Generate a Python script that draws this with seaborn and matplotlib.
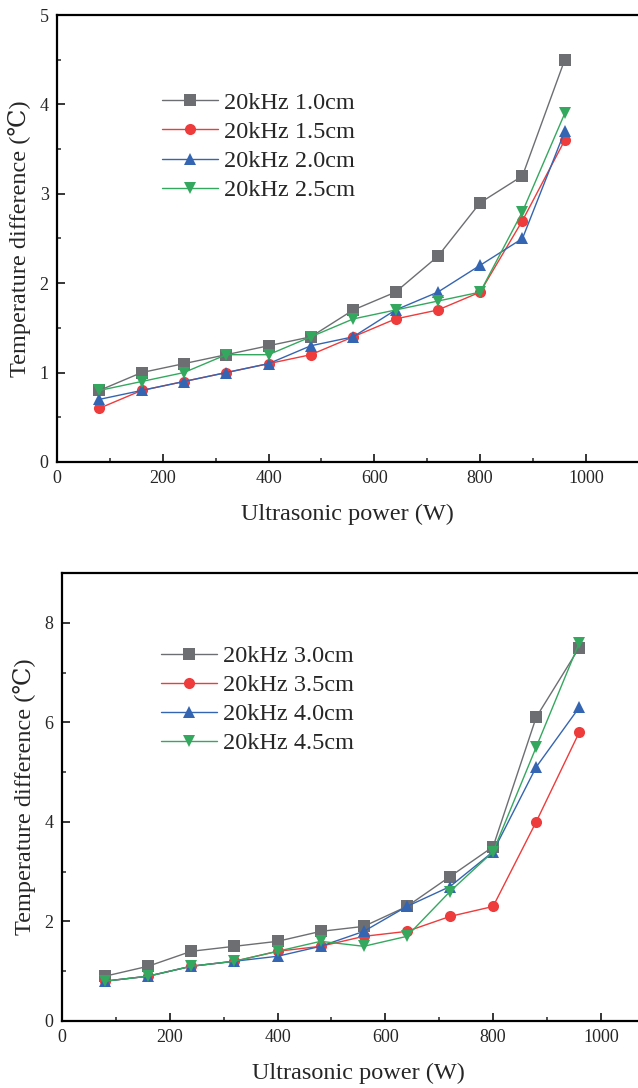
import numpy as np
import pandas as pd
import matplotlib
matplotlib.use("Agg")
import matplotlib.pyplot as plt
from matplotlib.ticker import MultipleLocator
import seaborn as sns

power = [80, 160, 240, 320, 400, 480, 560, 640, 720, 800, 880, 960]

labels_top = ["20kHz 1.0cm", "20kHz 1.5cm", "20kHz 2.0cm", "20kHz 2.5cm"]
d10 = [0.8, 1.0, 1.1, 1.2, 1.3, 1.4, 1.7, 1.9, 2.3, 2.9, 3.2, 4.5]
d15 = [0.6, 0.8, 0.9, 1.0, 1.1, 1.2, 1.4, 1.6, 1.7, 1.9, 2.7, 3.6]
d20 = [0.7, 0.8, 0.9, 1.0, 1.1, 1.3, 1.4, 1.7, 1.9, 2.2, 2.5, 3.7]
d25 = [0.8, 0.9, 1.0, 1.2, 1.2, 1.4, 1.6, 1.7, 1.8, 1.9, 2.8, 3.9]

labels_bot = ["20kHz 3.0cm", "20kHz 3.5cm", "20kHz 4.0cm", "20kHz 4.5cm"]
d30 = [0.9, 1.1, 1.4, 1.5, 1.6, 1.8, 1.9, 2.3, 2.9, 3.5, 6.1, 7.5]
d35 = [0.8, 0.9, 1.1, 1.2, 1.4, 1.5, 1.7, 1.8, 2.1, 2.3, 4.0, 5.8]
d40 = [0.8, 0.9, 1.1, 1.2, 1.3, 1.5, 1.8, 2.3, 2.7, 3.4, 5.1, 6.3]
d45 = [0.8, 0.9, 1.1, 1.2, 1.4, 1.6, 1.5, 1.7, 2.6, 3.4, 5.5, 7.6]

colors = ["#6d6e71", "#ee3b3b", "#3465b2", "#34a85e"]
marker_shapes = ["s", "o", "^", "v"]

sns.set_theme(style="ticks")
plt.rcParams["font.family"] = ["Liberation Serif", "DejaVu Serif"]


def long_frame(labels, series):
    rows = []
    for lab, vals in zip(labels, series):
        for p, v in zip(power, vals):
            rows.append({"power": p, "dT": v, "series": lab})
    return pd.DataFrame(rows)


def draw(ax, labels, series, ymax, ymajor, yminor, leg_anchor):
    df = long_frame(labels, series)
    sns.lineplot(data=df, x="power", y="dT", hue="series", style="series",
                 hue_order=labels, style_order=labels,
                 palette=dict(zip(labels, colors)),
                 markers=dict(zip(labels, marker_shapes)),
                 dashes=False, markersize=8, markeredgewidth=0,
                 linewidth=1.0, ax=ax, legend=True)
    ax.set_xlim(0, 1100)
    ax.set_ylim(0, ymax)
    ax.xaxis.set_major_locator(MultipleLocator(200))
    ax.xaxis.set_minor_locator(MultipleLocator(100))
    ax.yaxis.set_major_locator(MultipleLocator(ymajor))
    ax.yaxis.set_minor_locator(MultipleLocator(yminor))
    ax.tick_params(which="major", direction="in", length=6, width=1.3,
                   labelsize=13, pad=6, top=False, right=False)
    ax.tick_params(which="minor", direction="in", length=3, width=1.1,
                   top=False, right=False)
    for s in ["left", "bottom", "top"]:
        ax.spines[s].set_linewidth(1.6)
        ax.spines[s].set_color("black")
    ax.spines["right"].set_visible(False)
    ax.set_xlabel("Ultrasonic power (W)", fontsize=17.5, labelpad=12)
    ax.set_ylabel("Temperature difference (℃)", fontsize=17.5, labelpad=6)
    ax.legend(loc="upper left", bbox_to_anchor=leg_anchor,
              frameon=False, fontsize=17.5, handlelength=2.3,
              handletextpad=0.25, labelspacing=0.29, borderpad=0,
              borderaxespad=0)


fig = plt.figure(figsize=(6.38, 10.88), dpi=100)
ax1 = fig.add_axes([0.0893, 0.5754, 0.912, 0.4108])
ax2 = fig.add_axes([0.0972, 0.0616, 0.929, 0.4118])

draw(ax1, labels_top, [d10, d15, d20, d25], 5, 1, 0.5, (0.18, 0.828))
draw(ax2, labels_bot, [d30, d35, d40, d45], 9, 2, 1, (0.167, 0.839))

fig.savefig("out.png", dpi=100)
